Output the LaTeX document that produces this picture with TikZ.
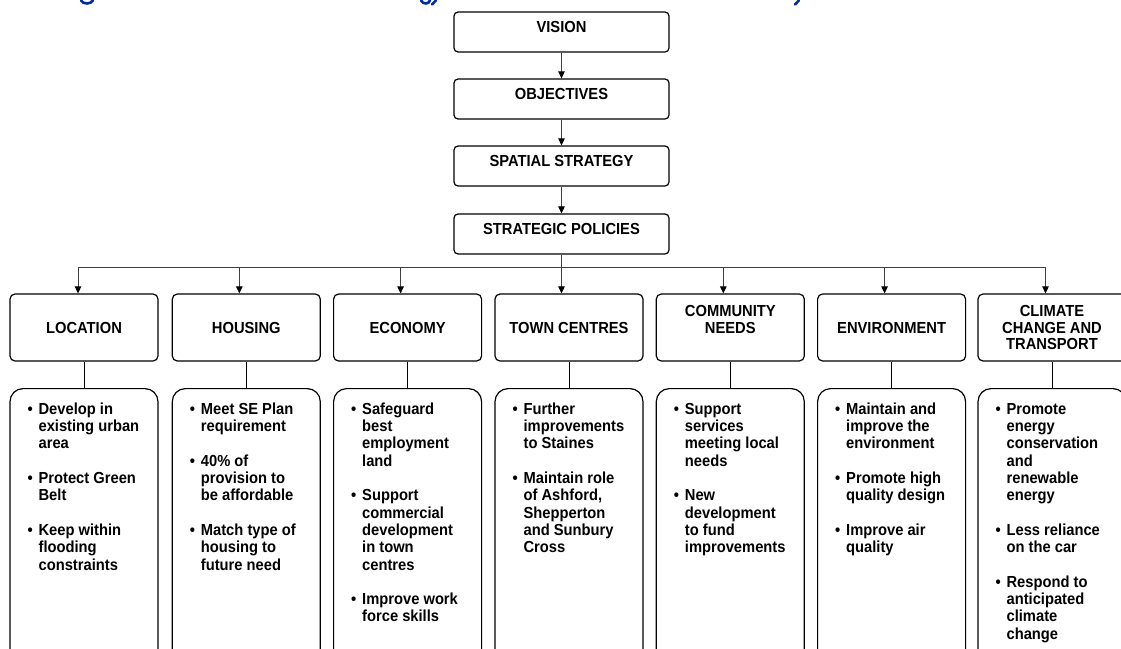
\documentclass[tikz,border=0pt]{standalone}
\usepackage{fontspec}
\setmainfont{Liberation Sans}[FakeStretch=0.92]
\usetikzlibrary{arrows.meta,positioning}
\definecolor{titleblue}{RGB}{0,45,160}
\newcommand{\Bu}{\textbullet &}
\newcommand{\Co}{&}
\tikzset{
  base/.style={font=\fontsize{16}{16.5}\selectfont\bfseries},
  tbox/.style={base,draw=black,line width=1.2pt,rounded corners=4pt,minimum width=215pt,minimum height=40pt,inner sep=0pt,text height=11.5pt,text depth=10.5pt},
  hbox/.style={base,draw=black,line width=1.2pt,rounded corners=5pt,minimum width=148pt,minimum height=67pt,inner sep=0pt,align=center},
  bbox/.style={draw=black,line width=1.2pt,rounded corners=13pt,minimum width=148pt,minimum height=320pt,inner sep=0pt,anchor=north},
  btext/.style={font=\fontsize{16}{17.3}\selectfont\bfseries,inner sep=0pt,anchor=north west,align=left},
  conn/.style={draw=black!75,line width=1pt},
  arr/.style={conn,-{Triangle[length=7pt,width=6.5pt,color=black]}},
}
\begin{document}
\begin{tikzpicture}[x=1pt,y=-1pt]
\useasboundingbox (0,0) rectangle (1121,648);
\clip (0,0) rectangle (1121,648);
% remnants of the cut-off title
\begin{scope}[titleblue,line width=2.6pt,line cap=round]
\draw (81,0.5) .. controls (83,4.5) and (91,4.5) .. (93,0.3);
\draw (421,0.5) .. controls (423,4.5) and (429,4.5) .. (430,0.3);
\draw (436,0.3) -- (432,4.5);
\draw (799,0.3) -- (795,4.5);
\end{scope}
% top column
\node[tbox] (vis) at (561.5,32) {VISION};
\node[tbox] (obj) at (561.5,99) {OBJECTIVES};
\node[tbox] (sps) at (561.5,166) {SPATIAL STRATEGY};
\node[tbox] (stp) at (561.5,234) {STRATEGIC POLICIES};
\draw[arr] (vis) -- (obj);
\draw[arr] (obj) -- (sps);
\draw[arr] (sps) -- (stp);
% header boxes
\node[hbox] (h1) at (84,327.5) {LOCATION};
\node[hbox] (h2) at (246.3,327.5) {HOUSING};
\node[hbox] (h3) at (407.6,327.5) {ECONOMY};
\node[hbox] (h4) at (569,327.5) {TOWN CENTRES};
\node[hbox] (h5) at (730.3,327.5) {COMMUNITY\\NEEDS\\\phantom{N}};
\node[hbox] (h6) at (891.6,327.5) {ENVIRONMENT};
\node[hbox] (h7) at (1052,327.5) {CLIMATE\\CHANGE AND\\TRANSPORT};
% bus
\coordinate (b1) at (78,267);
\coordinate (b2) at (239.3,267);
\coordinate (b3) at (400.6,267);
\coordinate (b4) at (561.5,267);
\coordinate (b5) at (723.3,267);
\coordinate (b6) at (884.6,267);
\coordinate (b7) at (1045.5,267);
\draw[conn] (stp.south) -- (b4);
\draw[conn] (b1) -- (b7);
\foreach \i in {1,...,7}{\draw[arr] (b\i) -- (b\i |- h\i.north);}
% bullet boxes
\foreach \i in {1,...,7}{
  \node[bbox] (p\i) at (h\i.center |- 0,388) {};
  \draw[conn,draw=black] (h\i.south) -- (p\i.north);
}
\node[btext] (t1) at ([shift={(18,14)}]p1.north west) {\begin{tabular}{@{}p{11pt}@{}l@{}}
\Bu Develop in\\ \Co existing urban\\ \Co area\\ \Co \\
\Bu Protect Green\\ \Co Belt\\ \Co \\
\Bu Keep within\\ \Co flooding\\ \Co constraints
\end{tabular}};
\node[btext] (t2) at ([shift={(18,14)}]p2.north west) {\begin{tabular}{@{}p{11pt}@{}l@{}}
\Bu Meet SE Plan\\ \Co requirement\\ \Co \\
\Bu 40\% of\\ \Co provision to\\ \Co be affordable\\ \Co \\
\Bu Match type of\\ \Co housing to\\ \Co future need
\end{tabular}};
\node[btext] (t3) at ([shift={(18,14)}]p3.north west) {\begin{tabular}{@{}p{11pt}@{}l@{}}
\Bu Safeguard\\ \Co best\\ \Co employment\\ \Co land\\ \Co \\
\Bu Support\\ \Co commercial\\ \Co development\\ \Co in town\\ \Co centres\\ \Co \\
\Bu Improve work\\ \Co force skills
\end{tabular}};
\node[btext] (t4) at ([shift={(18,14)}]p4.north west) {\begin{tabular}{@{}p{11pt}@{}l@{}}
\Bu Further\\ \Co improvements\\ \Co to Staines\\ \Co \\
\Bu Maintain role\\ \Co of Ashford,\\ \Co Shepperton\\ \Co and Sunbury\\ \Co Cross
\end{tabular}};
\node[btext] (t5) at ([shift={(18,14)}]p5.north west) {\begin{tabular}{@{}p{11pt}@{}l@{}}
\Bu Support\\ \Co services\\ \Co meeting local\\ \Co needs\\ \Co \\
\Bu New\\ \Co development\\ \Co to fund\\ \Co improvements
\end{tabular}};
\node[btext] (t6) at ([shift={(18,14)}]p6.north west) {\begin{tabular}{@{}p{11pt}@{}l@{}}
\Bu Maintain and\\ \Co improve the\\ \Co environment\\ \Co \\
\Bu Promote high\\ \Co quality design\\ \Co \\
\Bu Improve air\\ \Co quality
\end{tabular}};
\node[btext] (t7) at ([shift={(18,14)}]p7.north west) {\begin{tabular}{@{}p{11pt}@{}l@{}}
\Bu Promote\\ \Co energy\\ \Co conservation\\ \Co and\\ \Co renewable\\ \Co energy\\ \Co \\
\Bu Less reliance\\ \Co on the car\\ \Co \\
\Bu Respond to\\ \Co anticipated\\ \Co climate\\ \Co change
\end{tabular}};
\end{tikzpicture}
\end{document}
